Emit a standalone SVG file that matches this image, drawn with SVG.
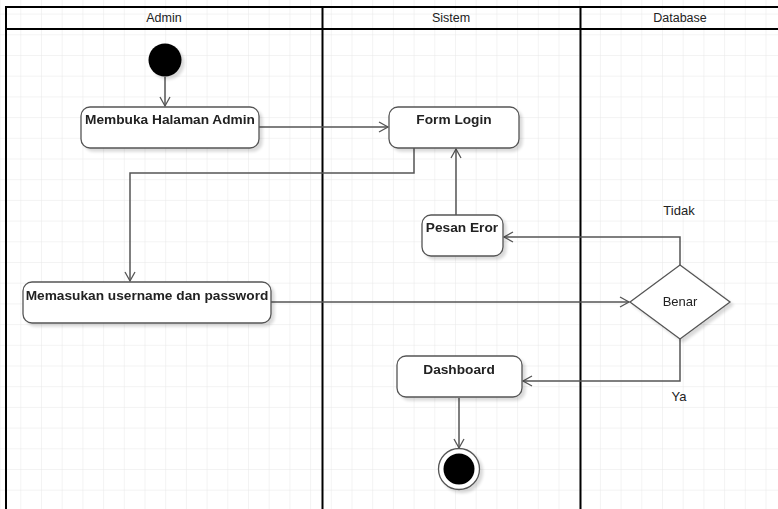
<svg xmlns="http://www.w3.org/2000/svg" width="778" height="509" viewBox="0 0 778 509">
<defs>
<pattern id="grid" x="20.3" y="13.6" width="20.7" height="20.7" patternUnits="userSpaceOnUse">
<path d="M0 0H20.7M0 0V20.7" fill="none" stroke="#e8e8e8" stroke-width="1"/>
</pattern>
<marker id="arr" markerWidth="12" markerHeight="12" refX="10" refY="6" orient="auto" markerUnits="userSpaceOnUse">
<path d="M1 1L10 6L1 11" fill="none" stroke="#555" stroke-width="1.3"/>
</marker>
<filter id="sh" x="-20%" y="-20%" width="150%" height="150%">
<feGaussianBlur in="SourceAlpha" stdDeviation="1.5"/>
<feOffset dx="3" dy="3"/>
<feComponentTransfer><feFuncA type="linear" slope="0.15"/></feComponentTransfer>
<feMerge><feMergeNode/><feMergeNode in="SourceGraphic"/></feMerge>
</filter>
</defs>
<style>
.box{fill:#fff;stroke:#555;stroke-width:1.3}
.lane{fill:none;stroke:#000;stroke-width:2}
.lbl{font-family:"Liberation Sans",Arial,sans-serif;font-size:13.7px;font-weight:bold;fill:#222;text-anchor:middle}
.hdr{font-family:"Liberation Sans",Arial,sans-serif;font-size:12.5px;fill:#222;text-anchor:middle}
.txt{font-family:"Liberation Sans",Arial,sans-serif;font-size:13px;fill:#222;text-anchor:middle}
.edge{fill:none;stroke:#555;stroke-width:1.5}
</style>
<rect width="778" height="509" fill="#fff"/>
<rect width="778" height="509" fill="url(#grid)"/>
<g id="lanes">
<path class="lane" d="M780 7H6V512M6 29H780M322.5 7V512M580.5 7V512"/>
<text class="hdr" x="164" y="22">Admin</text>
<text class="hdr" x="451" y="22">Sistem</text>
<text class="hdr" x="680" y="22">Database</text>
</g>
<g id="connectors">
<path class="edge" d="M165 77V106" marker-end="url(#arr)"/>
<path class="edge" d="M259 127H388" marker-end="url(#arr)"/>
<path class="edge" d="M414 148V173H130V281" marker-end="url(#arr)"/>
<path class="edge" d="M271 302H629" marker-end="url(#arr)"/>
<path class="edge" d="M680 265V237H504" marker-end="url(#arr)"/>
<path class="edge" d="M456 215V149" marker-end="url(#arr)"/>
<path class="edge" d="M680 339V381H523" marker-end="url(#arr)"/>
<path class="edge" d="M459 398V448" marker-end="url(#arr)"/>
<text class="txt" x="679" y="215">Tidak</text>
<text class="txt" x="679" y="401">Ya</text>
</g>
<g id="start" filter="url(#sh)">
<circle cx="165" cy="60" r="16.5" fill="#000"/>
</g>
<g id="membuka" filter="url(#sh)">
<rect class="box" x="81" y="107" width="178" height="41" rx="9"/>
<text class="lbl" x="170" y="124">Membuka Halaman Admin</text>
</g>
<g id="formlogin" filter="url(#sh)">
<rect class="box" x="389" y="107" width="130" height="41" rx="9"/>
<text class="lbl" x="454" y="124">Form Login</text>
</g>
<g id="pesaneror" filter="url(#sh)">
<rect class="box" x="422" y="215" width="81" height="41" rx="9"/>
<text class="lbl" x="462" y="232">Pesan Eror</text>
</g>
<g id="memasukan" filter="url(#sh)">
<rect class="box" x="23" y="282" width="248" height="41" rx="9"/>
<text class="lbl" x="147" y="300">Memasukan username dan password</text>
</g>
<g id="benar" filter="url(#sh)">
<path class="box" d="M680 265L730 302L680 339L630 302Z"/>
<text class="txt" x="680" y="306">Benar</text>
</g>
<g id="dashboard" filter="url(#sh)">
<rect class="box" x="397" y="356" width="125" height="41" rx="9"/>
<text class="lbl" x="459" y="374">Dashboard</text>
</g>
<g id="end" filter="url(#sh)">
<circle cx="459" cy="469" r="20.5" fill="#fff" stroke="#555" stroke-width="1.3"/>
<circle cx="459" cy="469" r="15.5" fill="#000"/>
</g>
</svg>
